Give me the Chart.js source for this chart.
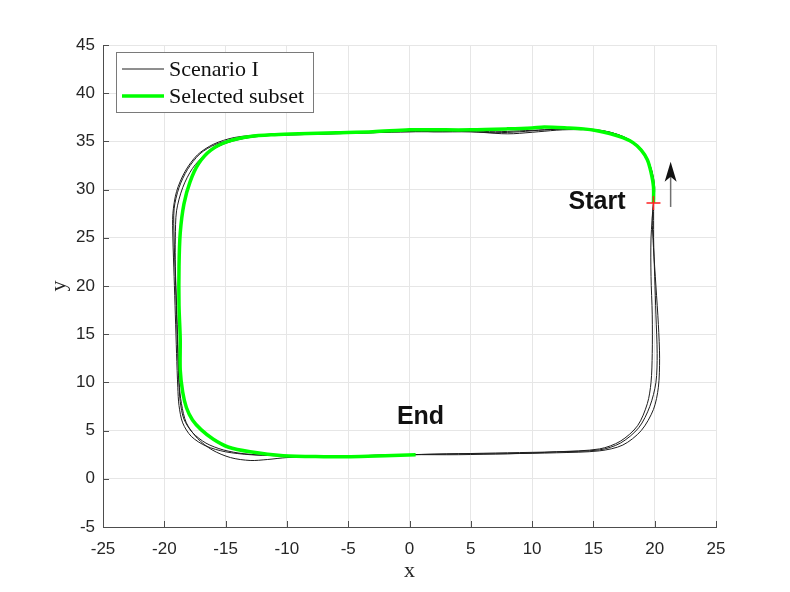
<!DOCTYPE html>
<html>
<head>
<meta charset="utf-8">
<script src="https://cdn.jsdelivr.net/npm/chart.js@4.4.1/dist/chart.umd.min.js"></script>
<style>
  html, body { margin: 0; padding: 0; background: #fff; }
  #wrap { width: 790px; height: 592px; }
</style>
</head>
<body>
<div id="wrap"><canvas id="traj" width="790" height="592"></canvas></div>
<script>
// axis ticks
const xTicks = [-25, -20, -15, -10, -5, 0, 5, 10, 15, 20, 25]
const yTicks = [-5, 0, 5, 10, 15, 20, 25, 30, 35, 40, 45]

// Scenario I: three laps, [x, y]
const lap1 = [[19.9,28.6],[19.9,30.3],[19.7,31.8],[19.3,33.2],[18.6,34.4],[17.5,35.3],[16.2,35.9],[14.8,36.2],[13,36.3],[11,36.2],
  [9,36.0],[7,35.9],[5,36.0],[2,36.0],[0,36.1],[-3,35.9],[-6,35.8],[-9,35.7],[-11.5,35.6],[-13.5,35.3],
  [-15.2,34.7],[-16.6,33.7],[-17.7,32.2],[-18.5,30.2],[-19.0,27.8],[-19.1,25],[-19.1,22],[-19.0,18],[-18.9,14],[-18.8,10],
  [-18.7,8],[-18.4,6.2],[-17.7,4.8],[-16.6,3.7],[-15.2,3.0],[-13.5,2.6],[-11,2.4],[-8,2.3],[-4,2.4],[0,2.5],
  [4,2.6],[8,2.7],[12,2.8],[15.5,3.0],[17.2,3.7],[18.7,5.3],[19.6,7.5],[20.1,10],[20.2,13],[20.1,17],
  [20.0,21],[19.9,25],[19.9,28.6]]
const lap2 = [[19.9,28.6],[20.0,30.2],[19.8,31.8],[19.4,33.2],[18.7,34.5],[17.6,35.4],[16.2,36.0],[14.6,36.2],[12.5,36.2],[10.5,36.0],
  [8.5,35.8],[7.5,35.8],[5,36.0],[2,36.0],[0,36.0],[-3,36.0],[-6,35.9],[-9,35.8],[-12,35.7],[-14.3,35.4],
  [-16.0,34.7],[-17.3,33.6],[-18.3,31.9],[-19.0,29.8],[-19.3,27.5],[-19.3,25],[-19.2,21],[-19.1,17],[-19.0,13],[-18.9,9.5],
  [-18.8,7.6],[-18.5,5.8],[-17.8,4.4],[-16.6,3.4],[-15.0,2.8],[-13,2.5],[-11,2.4],[-8,2.3],[-4,2.4],[0,2.5],
  [4,2.5],[8,2.6],[12,2.7],[15.5,2.9],[17.4,3.5],[18.9,5.0],[19.9,7.2],[20.3,9.5],[20.4,12.5],[20.3,16],
  [20.1,20],[19.9,24],[19.8,27],[19.9,28.6]]
const lap3 = [[19.9,28.6],[19.9,30.1],[19.8,31.7],[19.4,33.1],[18.7,34.4],[17.6,35.4],[16.2,36.0],[14.6,36.3],[12.8,36.3],[11,36.2],
  [9,36.1],[7,36.0],[5,36.1],[2,36.1],[0,36.0],[-3,35.9],[-6,35.8],[-9,35.7],[-12,35.6],[-14.0,35.3],
  [-15.8,34.7],[-17.1,33.7],[-18.1,32.1],[-18.8,30.2],[-19.2,28],[-19.2,25],[-19.1,21],[-19.0,17],[-18.9,13],[-18.8,10],
  [-18.6,7.8],[-18.2,5.8],[-17.3,4.2],[-16.1,3.0],[-14.6,2.2],[-13.0,1.9],[-11.6,2.0],[-10,2.2],[-7,2.3],[-4,2.4],
  [0,2.5],[4,2.6],[8,2.6],[12,2.8],[15.5,3.1],[17.2,3.9],[18.6,5.5],[19.4,7.8],[19.7,10],[19.8,13],
  [19.8,17],[19.7,21],[19.7,25],[19.9,28.6]]

// Selected subset (green), from Start to End
const subset = [[19.9,28.6],[19.9,30.3],[19.7,31.8],[19.4,33.1],[18.9,34.1],[18.2,34.9],[17.4,35.4],[16.4,35.8],[15.3,36.1],[14.2,36.3],
  [13,36.4],[11,36.5],[10,36.4],[8,36.3],[5,36.2],[2,36.2],[0,36.2],[-3,36.0],[-6,35.9],[-9,35.8],
  [-11,35.7],[-13,35.5],[-14.8,35.0],[-16.2,34.1],[-17.2,32.7],[-17.9,30.8],[-18.4,28.5],[-18.7,25.5],[-18.8,22],[-18.8,18],
  [-18.7,14.5],[-18.7,11.3],[-18.5,9],[-18.2,7.4],[-17.7,6.1],[-17.0,5.1],[-16.0,4.1],[-14.8,3.3],[-13,2.8],[-10.3,2.4],
  [-7,2.3],[-4.8,2.3],[-2,2.4],[0.5,2.5]]

// start marker, direction arrow, text labels
const startPt = [[19.9, 28.6]]
const arrowPts = [[21.3, 28.2], [21.3, 32.9]]
const labelText = ['Start', 'End']
const labelX = [15.3, 0.9]
const labelY = [28.7, 6.4]

const toXY = pts => pts.map(p => ({ x: p[0], y: p[1] }))

const trackStyle = { showLine: true, borderColor: '#1e1e1e', borderWidth: 1, pointRadius: 0, tension: 0.3, order: 2 }

// inward tick marks, MATLAB style
const innerTicks = {
  id: 'innerTicks',
  afterDraw(chart) {
    const { ctx, chartArea: a, scales: { x, y } } = chart
    ctx.save()
    ctx.strokeStyle = '#4d4d4d'
    ctx.lineWidth = 1
    ctx.beginPath()
    xTicks.forEach(v => { const px = Math.round(x.getPixelForValue(v)) + 0.5; ctx.moveTo(px, a.bottom); ctx.lineTo(px, a.bottom - 6) })
    yTicks.forEach(v => { const py = Math.round(y.getPixelForValue(v)) + 0.5; ctx.moveTo(a.left, py); ctx.lineTo(a.left + 6, py) })
    ctx.stroke()
    ctx.restore()
  }
}

// arrow + Start/End text
const notes = {
  id: 'notes',
  afterDatasetsDraw(chart) {
    const { ctx, scales: { x, y } } = chart
    ctx.save()
    const ax = x.getPixelForValue(arrowPts[0][0])
    const y0 = y.getPixelForValue(arrowPts[0][1])
    const y1 = y.getPixelForValue(arrowPts[1][1])
    ctx.strokeStyle = '#707070'
    ctx.lineWidth = 1.5
    ctx.beginPath(); ctx.moveTo(ax, y0); ctx.lineTo(ax, y1 + 14); ctx.stroke()
    ctx.fillStyle = '#111'
    ctx.beginPath()
    ctx.moveTo(ax, y1)
    ctx.lineTo(ax - 6, y1 + 20)
    ctx.lineTo(ax, y1 + 15)
    ctx.lineTo(ax + 6, y1 + 20)
    ctx.closePath(); ctx.fill()

    ctx.fillStyle = '#111'
    ctx.font = 'bold 25px "Liberation Sans", Arial, sans-serif'
    ctx.textAlign = 'center'
    ctx.textBaseline = 'middle'
    labelText.forEach((t, i) => ctx.fillText(t, x.getPixelForValue(labelX[i]), y.getPixelForValue(labelY[i])))
    ctx.restore()
  }
}

// boxed legend in upper left
const boxLegend = {
  id: 'boxLegend',
  afterDraw(chart) {
    const { ctx } = chart
    const items = chart.data.datasets.filter(d => d.inLegend)
    ctx.save()
    ctx.fillStyle = '#fff'
    ctx.fillRect(116.5, 52.5, 197, 60)
    ctx.strokeStyle = '#7a7a7a'
    ctx.lineWidth = 1
    ctx.strokeRect(116.5, 52.5, 197, 60)
    ctx.font = '22px "Liberation Serif", "Times New Roman", serif'
    ctx.textBaseline = 'middle'
    items.forEach((d, i) => {
      const cy = 69 + i * 27
      ctx.strokeStyle = d.borderColor
      ctx.lineWidth = d.borderWidth
      ctx.beginPath(); ctx.moveTo(122, cy); ctx.lineTo(164, cy); ctx.stroke()
      ctx.fillStyle = '#111'
      ctx.fillText(d.label, 169, cy + 1)
    })
    ctx.restore()
  }
}

new Chart(document.getElementById('traj'), {
  type: 'scatter',
  data: {
    datasets: [
      { label: 'Scenario I', data: toXY(lap1), inLegend: true, ...trackStyle },
      { label: 'lap 2', data: toXY(lap2), ...trackStyle },
      { label: 'lap 3', data: toXY(lap3), ...trackStyle },
      { label: 'Selected subset', data: toXY(subset), inLegend: true, showLine: true, borderColor: '#00ff00', borderWidth: 3.5,
        pointRadius: 0, tension: 0.3, order: 1 },
      { label: 'Start', data: toXY(startPt), pointStyle: 'cross', pointRadius: 7, borderColor: '#ff2020', borderWidth: 1.5,
        backgroundColor: '#ff2020', order: 0 }
    ]
  },
  options: {
    responsive: false,
    animation: false,
    devicePixelRatio: 1,
    layout: { padding: { left: 46, top: 45, right: 74, bottom: 8 } },
    plugins: { legend: { display: false }, tooltip: { enabled: false } },
    scales: {
      x: {
        type: 'linear', min: -25, max: 25,
        afterBuildTicks: s => { s.ticks = xTicks.map(v => ({ value: v })) },
        afterFit: s => { s.height = 57 },
        grid: { color: '#e6e6e6', drawTicks: false },
        border: { color: '#4d4d4d', width: 1 },
        ticks: { padding: 12, color: '#262626', font: { family: '"Liberation Sans", Arial, sans-serif', size: 17 } },
        title: { display: true, text: 'x', padding: 0, color: '#262626', font: { family: '"Liberation Serif", serif', size: 22 } }
      },
      y: {
        type: 'linear', min: -5, max: 45,
        afterBuildTicks: s => { s.ticks = yTicks.map(v => ({ value: v })) },
        afterFit: s => { s.width = 57 },
        grid: { color: '#e6e6e6', drawTicks: false },
        border: { color: '#4d4d4d', width: 1 },
        ticks: { padding: 8, color: '#262626', font: { family: '"Liberation Sans", Arial, sans-serif', size: 17 } },
        title: { display: true, text: 'y', padding: 0, color: '#262626', font: { family: '"Liberation Serif", serif', size: 22 } }
      }
    }
  },
  plugins: [innerTicks, notes, boxLegend]
})
</script>
</body>
</html>
